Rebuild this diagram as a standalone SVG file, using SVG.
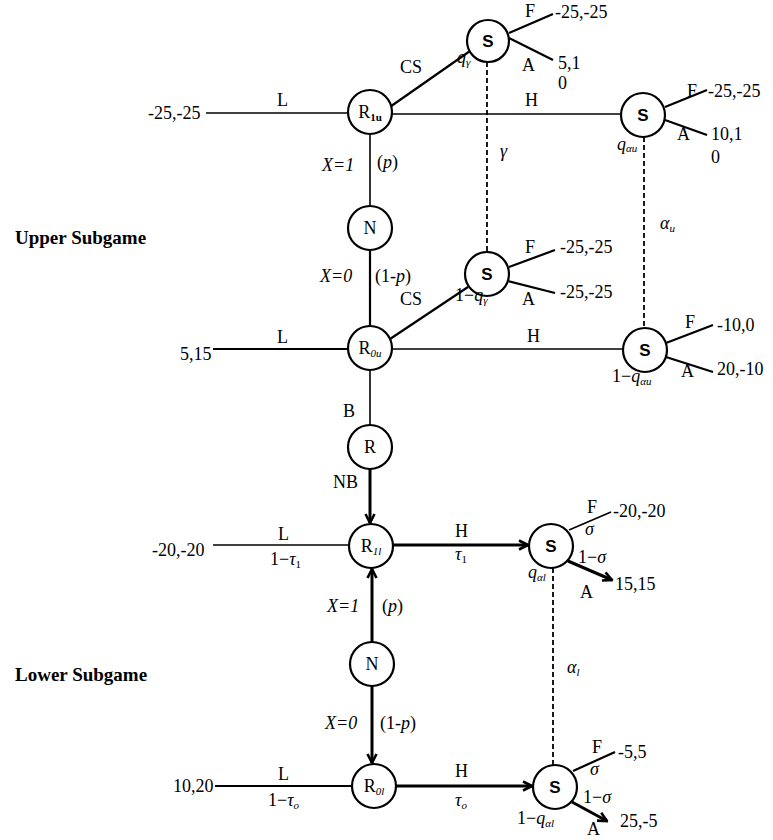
<svg xmlns="http://www.w3.org/2000/svg" width="773" height="840" viewBox="0 0 773 840">
<defs>
<style>
.bg{fill:#fff}
.n circle{fill:#fff;stroke:#000;stroke-width:2.2}
text{font-family:"Liberation Serif","Times New Roman",serif;font-size:18px;fill:#000}
.i{font-style:italic}
.b{font-weight:bold;font-size:19px}
.sl{font-family:"Liberation Sans",Arial,sans-serif;font-weight:bold;font-size:17px}
.sub{font-size:11px}
#edges line{stroke:#000;fill:none}
.thin{stroke-width:1.6}
.med{stroke-width:2.2}
.thick{stroke-width:3}
.dash{stroke-width:1.8;stroke-dasharray:5 3}
</style>
<marker id="ah" viewBox="0 0 12 12" refX="10.5" refY="6" markerWidth="12" markerHeight="12" markerUnits="userSpaceOnUse" orient="auto">
<path d="M1.5,1.5 L10.5,6 L1.5,10.5" fill="none" stroke="#000" stroke-width="2.6" stroke-linejoin="miter"/>
</marker>
</defs>
<rect class="bg" x="0" y="0" width="773" height="840"/>

<g id="edges">
<line class="thin" x1="206" y1="113" x2="348" y2="113"/>
<line class="med" x1="387" y1="109" x2="470" y2="51"/>
<line class="thin" x1="392" y1="114" x2="621" y2="114"/>
<line class="med" x1="509" y1="33" x2="553" y2="14"/>
<line class="med" x1="509" y1="38" x2="553" y2="60"/>
<line class="med" x1="665" y1="107" x2="707" y2="90"/>
<line class="med" x1="665" y1="120" x2="707" y2="135"/>
<line class="thin" x1="370" y1="134" x2="370" y2="206"/>
<line class="med" x1="370" y1="250" x2="370" y2="326"/>
<line class="med" x1="213" y1="349" x2="348" y2="349"/>
<line class="med" x1="390" y1="339" x2="468" y2="287"/>
<line class="thin" x1="392" y1="349" x2="623" y2="349"/>
<line class="med" x1="509" y1="267" x2="555" y2="250"/>
<line class="med" x1="508" y1="281" x2="555" y2="293"/>
<line class="med" x1="666" y1="343" x2="713" y2="325"/>
<line class="med" x1="666" y1="357" x2="713" y2="372"/>
<line class="thin" x1="370" y1="370" x2="370" y2="425"/>
<line class="thick" x1="370" y1="469" x2="370" y2="523" marker-end="url(#ah)"/>
<line class="thin" x1="213" y1="545" x2="349" y2="545"/>
<line class="thick" x1="393" y1="545" x2="528" y2="545" marker-end="url(#ah)"/>
<line class="thin" x1="569" y1="530" x2="611" y2="512"/>
<line class="thick" x1="568" y1="561" x2="612" y2="580" marker-end="url(#ah)"/>
<line class="thick" x1="372" y1="642" x2="372" y2="569" marker-end="url(#ah)"/>
<line class="thick" x1="372" y1="686" x2="372" y2="763" marker-end="url(#ah)"/>
<line class="med" x1="215" y1="786" x2="352" y2="786"/>
<line class="thick" x1="396" y1="786" x2="532" y2="786" marker-end="url(#ah)"/>
<line class="med" x1="573" y1="771" x2="615" y2="752"/>
<line class="thick" x1="572" y1="802" x2="607" y2="821" marker-end="url(#ah)"/>
<line class="dash" x1="487" y1="62" x2="487" y2="252"/>
<line class="dash" x1="644" y1="137" x2="644" y2="328"/>
<line class="dash" x1="553" y1="568" x2="553" y2="765"/>
</g>

<g id="R1u" class="n"><circle cx="370" cy="112" r="22"/><text x="370" y="118" text-anchor="middle">R<tspan class="sub" font-weight="bold" dy="3">1u</tspan></text></g>
<g id="S1" class="n"><circle cx="488" cy="41" r="21"/><text class="sl" x="488" y="47" text-anchor="middle">S</text></g>
<g id="S2" class="n"><circle cx="643" cy="115" r="22"/><text class="sl" x="643" y="121" text-anchor="middle">S</text></g>
<g id="Nu" class="n"><circle cx="370" cy="228" r="22"/><text x="370" y="234" text-anchor="middle">N</text></g>
<g id="S3" class="n"><circle cx="487" cy="274" r="22"/><text class="sl" x="487" y="280" text-anchor="middle">S</text></g>
<g id="R0u" class="n"><circle cx="370" cy="348" r="22"/><text x="370" y="354" text-anchor="middle">R<tspan class="sub i" dy="3">0u</tspan></text></g>
<g id="S4" class="n"><circle cx="645" cy="350" r="22"/><text class="sl" x="645" y="356" text-anchor="middle">S</text></g>
<g id="R" class="n"><circle cx="370" cy="447" r="22"/><text x="370" y="453" text-anchor="middle">R</text></g>
<g id="R1l" class="n"><circle cx="371" cy="546" r="22"/><text x="371" y="552" text-anchor="middle">R<tspan class="sub i" dy="3">1l</tspan></text></g>
<g id="S5" class="n"><circle cx="551" cy="546" r="22"/><text class="sl" x="551" y="552" text-anchor="middle">S</text></g>
<g id="Nl" class="n"><circle cx="372" cy="664" r="22"/><text x="372" y="670" text-anchor="middle">N</text></g>
<g id="R0l" class="n"><circle cx="374" cy="786" r="22"/><text x="374" y="792" text-anchor="middle">R<tspan class="sub i" dy="3">0l</tspan></text></g>
<g id="S6" class="n"><circle cx="555" cy="787" r="22"/><text class="sl" x="555" y="793" text-anchor="middle">S</text></g>

<g id="labels">
<text x="148" y="119">-25,-25</text>
<text x="277" y="106">L</text>
<text x="400" y="73">CS</text>
<text class="i" x="457" y="63">q<tspan class="sub" dy="3">γ</tspan></text>
<text x="525" y="17">F</text>
<text x="555" y="18">-25,-25</text>
<text x="522" y="71">A</text>
<text x="558" y="69" font-size="17">5,1</text>
<text x="558" y="89" font-size="17">0</text>
<text x="525" y="106">H</text>
<text class="i" x="500" y="157">γ</text>
<text class="i" x="617" y="150">q<tspan class="sub" dy="2">αu</tspan></text>
<text x="687" y="97">F</text>
<text x="708" y="97">-25,-25</text>
<text x="677" y="140">A</text>
<text x="711" y="140">10,1</text>
<text x="711" y="163">0</text>
<text class="i" x="322" y="171">X=1</text>
<text x="377" y="168">(<tspan class="i">p</tspan>)</text>
<text class="b" x="15" y="244">Upper Subgame</text>
<text class="i" x="320" y="282">X=0</text>
<text x="375" y="282">(1-<tspan class="i">p</tspan>)</text>
<text x="180" y="360">5,15</text>
<text x="277" y="343">L</text>
<text x="400" y="305">CS</text>
<text x="525" y="253">F</text>
<text x="560" y="253">-25,-25</text>
<text x="522" y="305">A</text>
<text x="560" y="298">-25,-25</text>
<text x="455" y="301">1−<tspan class="i">q</tspan><tspan class="sub i" dy="3">γ</tspan></text>
<text class="i" x="660" y="229">α<tspan class="sub" dy="3">u</tspan></text>
<text x="527" y="342">H</text>
<text x="685" y="328">F</text>
<text x="717" y="331">-10,0</text>
<text x="681" y="377">A</text>
<text x="717" y="375">20,-10</text>
<text x="612" y="382">1−<tspan class="i">q</tspan><tspan class="sub i" dy="3">αu</tspan></text>
<text x="343" y="417">B</text>
<text x="333" y="488">NB</text>
<text x="152" y="556">-20,-20</text>
<text x="278" y="540">L</text>
<text x="270" y="565">1−<tspan class="i">τ</tspan><tspan class="sub" dy="3">1</tspan></text>
<text x="455" y="537">H</text>
<text class="i" x="455" y="560">τ<tspan class="sub" font-style="normal" dy="3">1</tspan></text>
<text x="587" y="513">F</text>
<text x="613" y="517">-20,-20</text>
<text class="i" x="585" y="535">σ</text>
<text x="578" y="563">1−<tspan class="i">σ</tspan></text>
<text x="615" y="590">15,15</text>
<text x="580" y="598">A</text>
<text class="i" x="528" y="578">q<tspan class="sub" dy="3">αl</tspan></text>
<text class="i" x="327" y="612">X=1</text>
<text x="382" y="612">(<tspan class="i">p</tspan>)</text>
<text class="b" x="15" y="681">Lower Subgame</text>
<text class="i" x="325" y="729">X=0</text>
<text x="380" y="729">(1-<tspan class="i">p</tspan>)</text>
<text x="173" y="792">10,20</text>
<text x="278" y="780">L</text>
<text x="268" y="806">1−<tspan class="i">τ</tspan><tspan class="sub i" dy="3">o</tspan></text>
<text x="455" y="777">H</text>
<text class="i" x="455" y="806">τ<tspan class="sub" dy="3">o</tspan></text>
<text class="i" x="567" y="673">α<tspan class="sub" dy="3">l</tspan></text>
<text x="592" y="753">F</text>
<text x="618" y="758">-5,5</text>
<text class="i" x="590" y="775">σ</text>
<text x="583" y="803">1−<tspan class="i">σ</tspan></text>
<text x="620" y="827">25,-5</text>
<text x="587" y="835">A</text>
<text x="517" y="824">1−<tspan class="i">q</tspan><tspan class="sub i" dy="3">αl</tspan></text>
</g>
</svg>
